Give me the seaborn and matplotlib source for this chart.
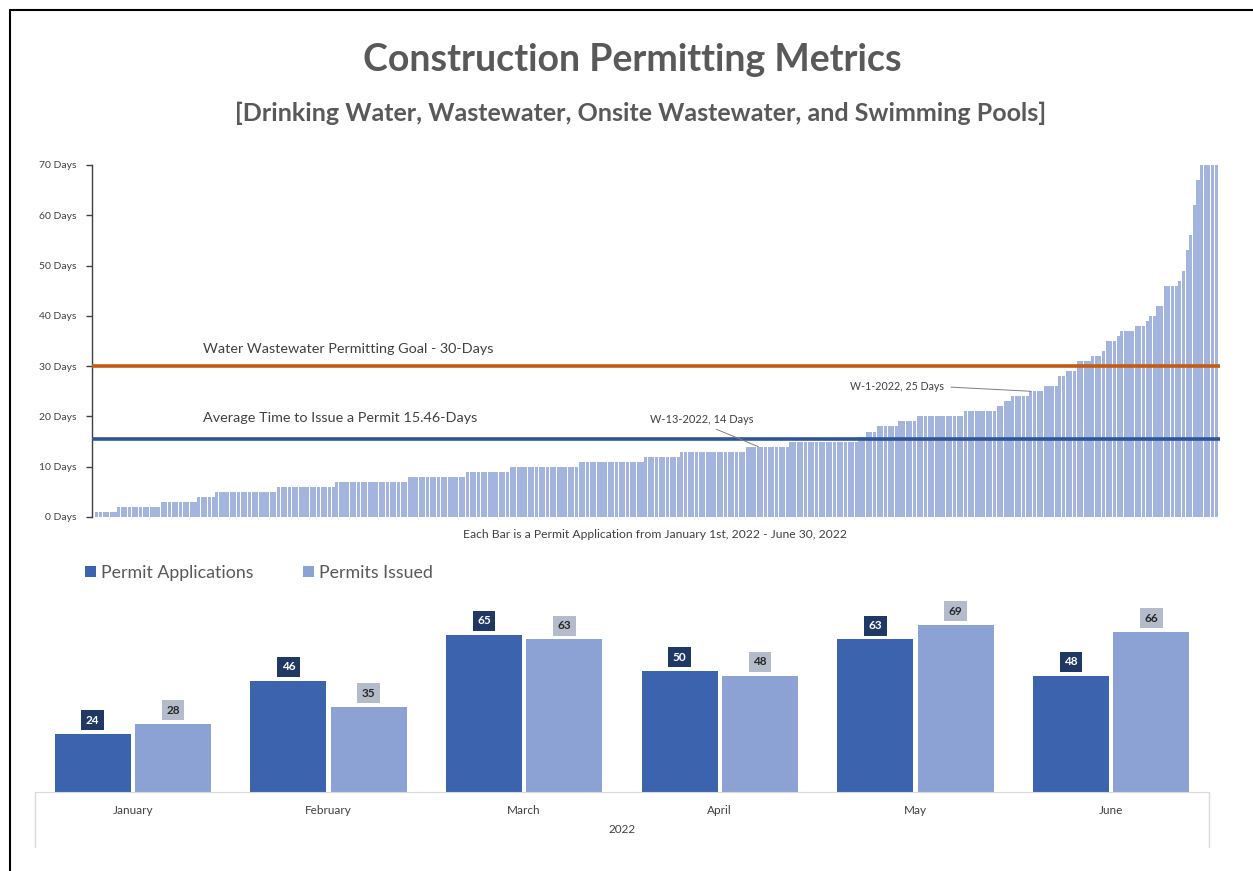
import numpy as np
import pandas as pd
import matplotlib.pyplot as plt
import seaborn as sns
from matplotlib.lines import Line2D

# -----------------------
# Data
# -----------------------

# sorted days-to-issue, stored as each day value and how many permits sit at it
day_values = [1, 2, 3, 4, 5, 6, 7, 8, 9, 10, 11, 12, 13, 14, 15, 16, 17, 18, 19, 20,
              21, 22, 23, 24, 25, 26, 28, 29, 31, 32, 33, 35, 36, 37, 38, 39, 40, 42,
              46, 47, 49, 53, 56, 62, 67, 70]
day_counts = [6, 12, 10, 5, 17, 16, 20, 16, 12, 19, 18, 10, 18, 12, 19, 2, 3, 6, 5, 13,
              9, 2, 2, 5, 4, 4, 2, 3, 4, 3, 1, 3, 1, 4, 3, 1, 2, 2,
              4, 1, 1, 1, 1, 1, 1, 5]

goal_days = 30
avg_days = 15.46

months = ["January", "February", "March", "April", "May", "June"]
applications = [24, 46, 65, 50, 63, 48]
issued = [28, 35, 63, 48, 69, 66]

# -----------------------
# Figure setup
# -----------------------

sns.set_style("white")
plt.rcParams["font.family"] = ["Lato", "DejaVu Sans"]

W, H = 1253, 871
fig = plt.figure(figsize=(W / 100, H / 100), dpi=100)


def px_rect(left, top, right, bottom):
    return [left / W, 1 - bottom / H, (right - left) / W, (bottom - top) / H]


grey_text = "#595959"
dark_text = "#404040"
bar_light = "#a3b4de"
orange = "#c55a11"
blue_line = "#2f5597"

fig.text(632 / W, 1 - 60 / H, "Construction Permitting Metrics", ha="center", va="center",
         fontsize=27, fontweight="bold", color=grey_text)
fig.text(641 / W, 1 - 113 / H,
         "[Drinking Water, Wastewater, Onsite Wastewater, and Swimming Pools]",
         ha="center", va="center", fontsize=18, fontweight="bold", color=grey_text)

# -----------------------
# Top chart: every permit as a bar
# -----------------------

days = np.repeat(day_values, day_counts)
idx = np.arange(len(days))

ax1 = fig.add_axes(px_rect(92, 165, 1220, 517))
sns.barplot(x=idx, y=days, color=bar_light, width=0.85, linewidth=0,
            saturation=1, errorbar=None, ax=ax1)
ax1.set_xlim(-1.33, len(days) + 0.05)
ax1.set_ylim(0, 70)
ax1.set_xticks([])
ax1.set_yticks(range(0, 71, 10))
ax1.set_yticklabels([f"{v} Days" for v in range(0, 71, 10)])
ax1.set_xlabel("")
ax1.set_ylabel("")
for s in ["top", "right", "bottom"]:
    ax1.spines[s].set_visible(False)
ax1.spines["left"].set_color(dark_text)
ax1.spines["left"].set_linewidth(1)
ax1.tick_params(axis="y", length=4, width=1, color=dark_text, labelsize=7.5,
                labelcolor=dark_text, pad=7, left=True)

ax1.axhline(goal_days, color=orange, lw=2.6, zorder=3)
ax1.axhline(avg_days, color=blue_line, lw=2.6, zorder=3)

tr = ax1.get_yaxis_transform()
ax1.text(0.098, goal_days + 3.4, "Water Wastewater Permitting Goal - 30-Days",
         transform=tr, fontsize=10.4, color=dark_text, va="center")
ax1.text(0.098, avg_days + 4.2, "Average Time to Issue a Permit 15.46-Days",
         transform=tr, fontsize=10.4, color=dark_text, va="center")

i14 = int(np.argmax(days >= 14)) + 3
ax1.annotate("W-13-2022, 14 Days", xy=(i14, days[i14]), xytext=(166.5, 19.3),
             fontsize=7.9, color=dark_text, ha="center", va="center",
             arrowprops=dict(arrowstyle="-", color="#7f7f7f", lw=0.7,
                             relpos=(0.55, 0), shrinkA=1, shrinkB=0))
i25 = int(np.argmax(days >= 25))
ax1.annotate("W-1-2022, 25 Days", xy=(i25, days[i25]), xytext=(233, 25.9),
             fontsize=7.7, color=dark_text, ha="right", va="center",
             arrowprops=dict(arrowstyle="-", color="#7f7f7f", lw=0.7,
                             relpos=(1, 0.5), shrinkA=3, shrinkB=0))

fig.text(655 / W, 1 - 534 / H,
         "Each Bar is a Permit Application from January 1st, 2022 - June 30, 2022",
         ha="center", va="center", fontsize=8.7, color=dark_text)

# -----------------------
# Bottom chart: monthly applications vs issued
# -----------------------

df = pd.DataFrame({
    "Month": months * 2,
    "Count": applications + issued,
    "Series": ["Permit Applications"] * len(months) + ["Permits Issued"] * len(months),
})

ax2 = fig.add_axes(px_rect(35, 600, 1209, 792))
sns.barplot(data=df, x="Month", y="Count", hue="Series",
            palette=["#3c63ae", "#8da2d4"], width=0.82, gap=0.05,
            linewidth=0, saturation=1, errorbar=None, ax=ax2)
ax2.set_xlim(-0.5, len(months) - 0.5)
ax2.set_ylim(0, 79.3)
ax2.set_yticks([])
ax2.set_ylabel("")
ax2.set_xlabel("2022", fontsize=8.5, color=dark_text, labelpad=6)
for s in ["top", "right", "left"]:
    ax2.spines[s].set_visible(False)
ax2.spines["bottom"].set_color("#d9d9d9")
ax2.tick_params(axis="x", length=0, pad=9, labelsize=8.5, labelcolor=dark_text)

label_styles = [("#1f3864", "white"), ("#b4bccb", "#262626")]
for cont, (fc, tc) in zip(ax2.containers, label_styles):
    ax2.bar_label(cont, padding=6, fontsize=8.5, fontweight="bold", color=tc,
                  bbox=dict(boxstyle="square,pad=0.38", fc=fc, ec="none"))

# category box lines under the axis
for xa in [0, 1]:
    ax2.plot([xa, xa], [0, -55 / 192], transform=ax2.transAxes, clip_on=False,
             color="#d9d9d9", lw=1)

sns.move_legend(ax2, loc="center left", bbox_to_anchor=(85 / W, 1 - 573 / H),
                bbox_transform=fig.transFigure, ncol=2, frameon=False, title=None,
                fontsize=12.8, handlelength=0.6, handleheight=0.6,
                handletextpad=0.3, columnspacing=2.8, borderaxespad=0, borderpad=0)
for t in ax2.get_legend().get_texts():
    t.set_color(grey_text)

# outer frame (left and top edges visible in the screenshot)
fig.add_artist(Line2D([10 / W, 10 / W], [0, 1 - 10 / H], color="black", lw=1.5))
fig.add_artist(Line2D([10 / W, 1], [1 - 10 / H, 1 - 10 / H], color="black", lw=1.5))

fig.savefig("out.png", dpi=100)
